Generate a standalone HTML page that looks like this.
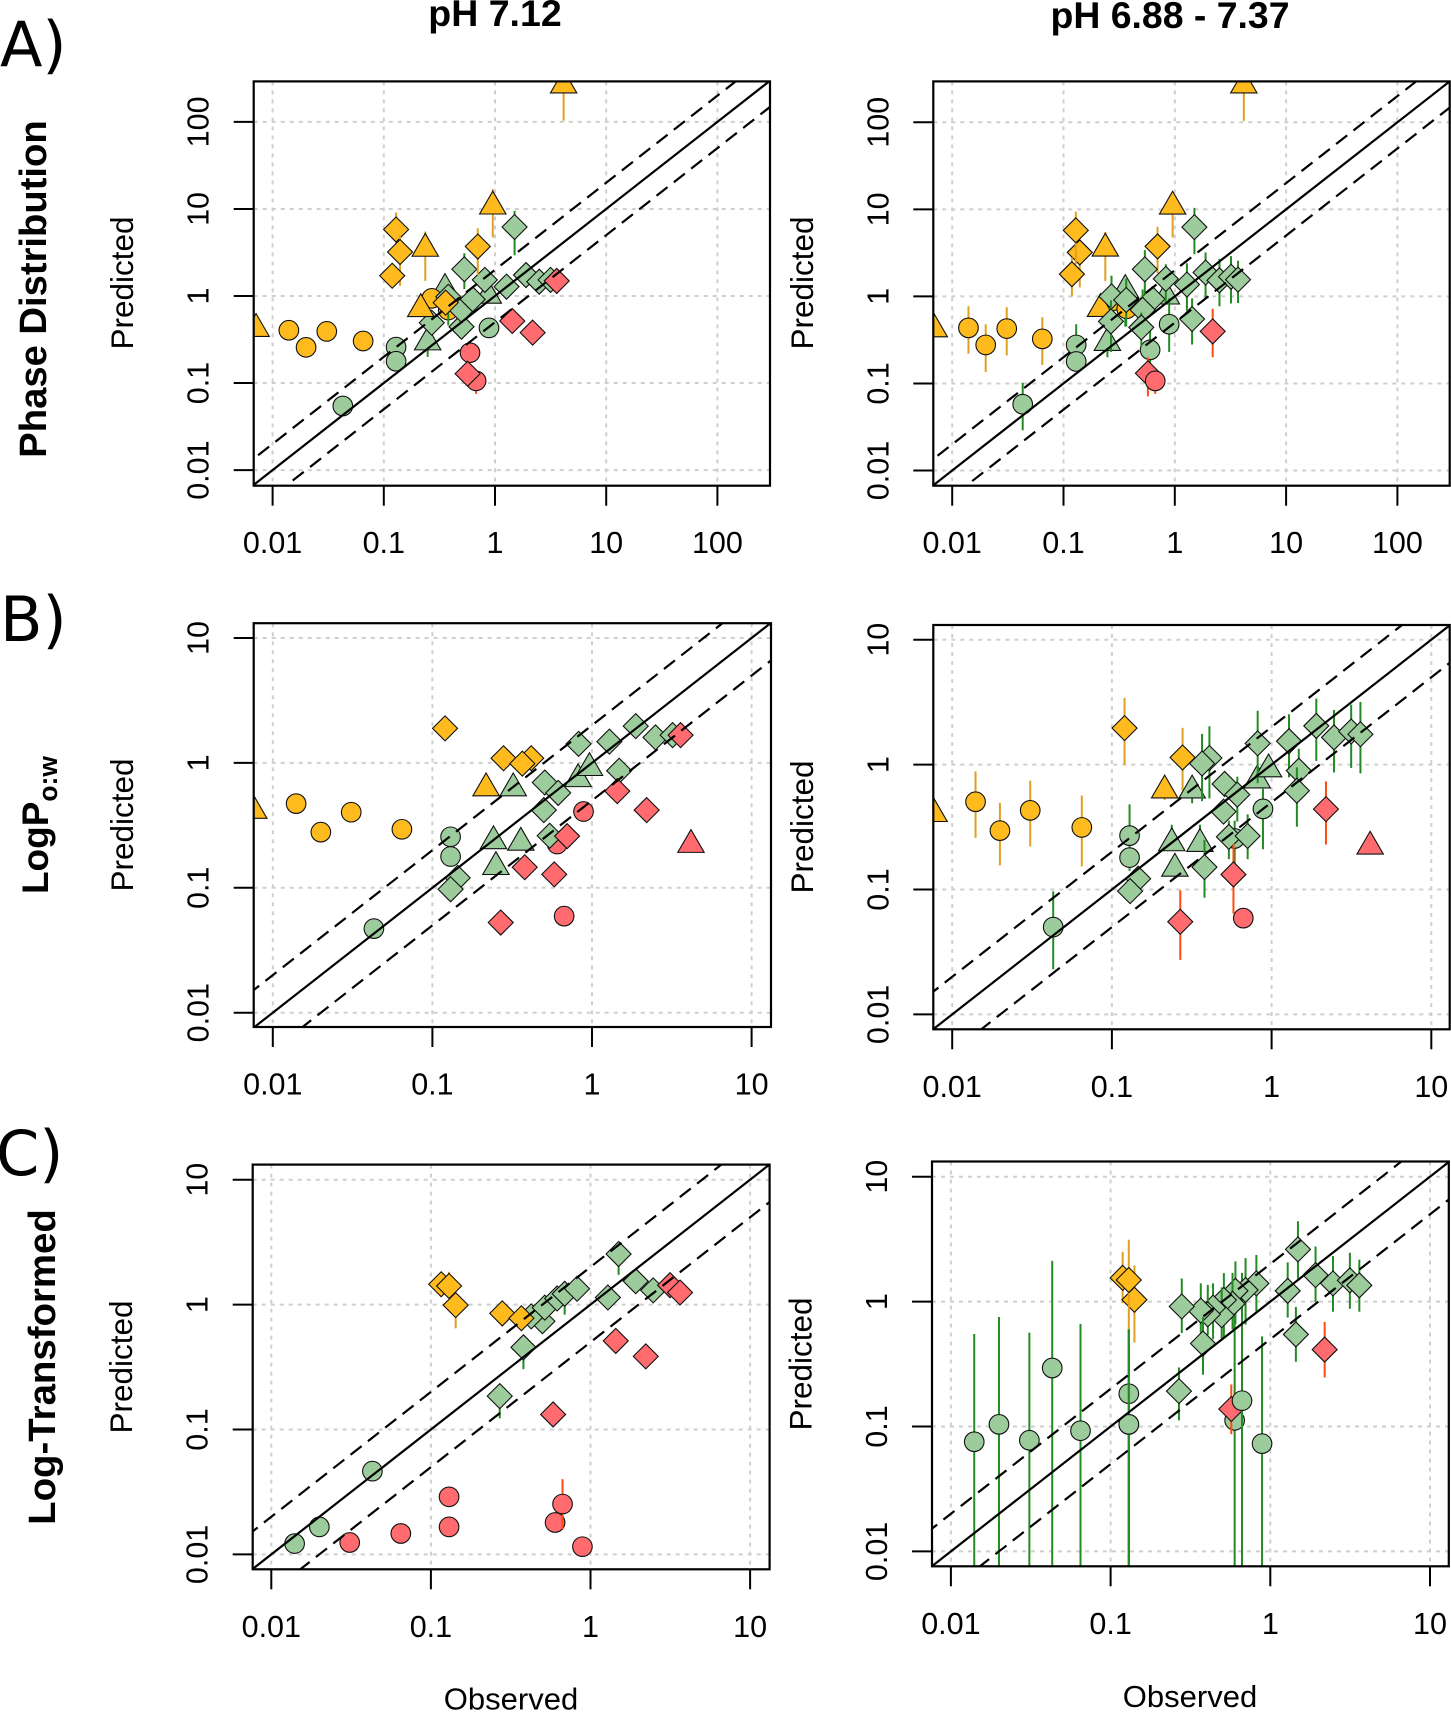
<!DOCTYPE html>
<html lang="en">
<head>
<meta charset="utf-8">
<title>Observed vs predicted scatter panels</title>
<style>
html,body{margin:0;padding:0;background:#fff;width:1451px;height:1712px;overflow:hidden;}
svg{display:block;}
text{font-family:"Liberation Sans",sans-serif;fill:#000;}
.bold{font-weight:bold;}
.letter{font-family:"DejaVu Sans",sans-serif;font-size:62px;}
</style>
</head>
<body>
<svg id="chart" xmlns="http://www.w3.org/2000/svg" width="1451" height="1712" viewBox="0 0 1451 1712">
<rect x="0" y="0" width="1451" height="1712" fill="#fff"/>
<text class="bold" x="495" y="26" font-size="37.5" text-anchor="middle">pH 7.12</text>
<text class="bold" x="1170" y="28" font-size="37.4" text-anchor="middle">pH 6.88 - 7.37</text>
<text class="letter" x="0" y="66">A)</text>
<text class="letter" x="0" y="641">B)</text>
<text class="letter" x="-4" y="1175">C)</text>
<text class="bold" transform="translate(46 289) rotate(-90)" font-size="38.2" text-anchor="middle">Phase Distribution</text>
<text class="bold" transform="translate(48 825) rotate(-90)" font-size="37" text-anchor="middle">LogP<tspan font-size="26.5" dy="9">o:w</tspan></text>
<text class="bold" transform="translate(55 1367) rotate(-90)" font-size="38.4" text-anchor="middle">Log-Transformed</text>
<text x="511" y="1709.5" font-size="31" text-anchor="middle">Observed</text>
<text x="1190" y="1707" font-size="31" text-anchor="middle">Observed</text>
</svg>
<script>
// Tick values and printed labels
const ticksRowA = [0.01, 0.1, 1, 10, 100];
const ticksRowAY = [0.01, 0.1, 1, 10, 100];
const ticksRowBC = [0.01, 0.1, 1, 10];
const tickLabels = {0.01: "0.01", 0.1: "0.1", 1: "1", 10: "10", 100: "100"};
const diagonalFactors = [1, 2, 0.5];
const yAxisTitle = "Predicted";

// Marker kind codes: first letter colour group (o, g, r), second shape (c, d, t)
// Panel A, pH 7.12
const a1Kind = ["gt","gt","gt","gc","gc","gc","gc","oc","oc","oc","oc","oc","oc","gd","gd","gd","gd","gd","gd","gd","gd","gd","gd","gd","gd","od","od","od","od","od","ot","ot","ot","ot","ot","rc","rc","rd","rd","rd","rd"];
const a1Obs = [0.248,0.355,0.87,0.0428,0.129,0.129,0.883,0.014,0.02,0.0307,0.0652,0.27,0.38,0.38,0.27,0.5,0.5,0.63,0.53,0.81,1.27,1.5,1.9,2.5,3.16,0.129,0.14,0.119,0.7,0.36,4.14,0.955,0.236,0.215,0.0071,0.596,0.676,3.59,1.43,2.18,0.567];
const a1Pred = [0.294,1.21,1.01,0.0545,0.259,0.178,0.43,0.404,0.257,0.392,0.304,0.94,0.69,0.98,0.493,0.444,0.69,0.916,2.03,1.53,1.28,6.2,1.74,1.46,1.53,5.8,3.2,1.71,3.7,0.84,263,10.7,3.5,0.71,0.42,0.223,0.106,1.49,0.516,0.38,0.128];
const a1Low = [0.2,null,null,null,null,null,null,null,null,null,null,null,null,0.46,null,null,null,null,1.2,null,null,2.94,null,null,null,3,1.31,null,1.75,null,103,4.7,1.49,null,null,null,0.075,null,null,null,null];
const a1High = [null,null,null,null,null,null,null,null,null,null,null,null,null,1.3,null,null,null,null,3.1,null,null,9.5,null,null,null,9.1,5,null,6,null,700,16.9,5.5,null,null,null,null,null,null,null,null];

// Panel A, pH 6.88 - 7.37
const a2Kind = ["gt","gt","gt","oc","oc","oc","oc","oc","oc","gc","gc","gc","gc","gc","od","od","od","od","ot","ot","ot","ot","ot","gd","gd","gd","gd","gd","gd","gd","gd","gd","gd","gd","gd","gd","gd","gd","rd","rd","rc"];
const a2Obs = [0.248,0.359,0.84,0.014,0.02,0.0309,0.0645,0.27,0.37,0.043,0.13,0.13,0.6,0.89,0.14,0.129,0.119,0.7,4.17,0.956,0.2375,0.215,0.0069,0.27,0.366,0.63,0.514,0.5,0.267,1.43,0.538,0.83,1.285,1.5,1.89,2.52,3.2,3.7,2.19,0.573,0.667];
const a2Pred = [0.293,1.19,1,0.435,0.277,0.427,0.325,0.88,0.72,0.0577,0.277,0.179,0.243,0.479,3.2,5.74,1.8,3.75,266,10.8,3.55,0.72,0.42,1,0.91,0.93,0.7,0.44,0.516,0.55,2.05,1.59,1.37,6.25,1.88,1.53,1.68,1.56,0.396,0.131,0.107];
const a2Low = [0.2,0.45,null,0.22,0.135,0.21,0.163,null,null,0.029,0.16,0.138,0.15,0.23,1.27,2.34,1,1.85,104,4.76,1.5,null,null,0.55,0.45,null,0.4,0.27,0.23,0.28,1.05,0.83,0.68,3.05,0.95,0.77,0.83,0.84,0.2,0.071,0.076];
const a2High = [null,1.68,null,0.77,0.479,0.753,0.578,null,null,0.102,0.479,null,0.41,0.95,4.5,9.4,2.8,6.3,700,15,5.5,null,null,1.73,1.6,null,1.2,0.65,0.9,0.95,3.4,2.34,2.4,10.4,3.2,2.7,2.9,2.57,0.72,0.2,null];

// Panel B, pH 7.12
const b1Kind = ["rc","rc","rc","gt","gt","gt","gt","gt","gt","gc","gc","gc","oc","oc","oc","oc","ot","ot","od","od","od","od","gd","gd","gd","gd","gd","gd","gd","gd","gd","gd","gd","gd","rd","rd","rd","rd","rd","rd","rd","rt"];
const b1Obs = [0.605,0.885,0.669,0.321,0.2415,0.358,0.25,0.818,0.964,0.043,0.13,0.13,0.014,0.02,0.031,0.0644,0.0076,0.217,0.416,0.12,0.279,0.366,1.88,2.5,3.2,1.285,0.824,1.48,0.506,0.614,0.499,0.543,0.144,0.13,3.59,1.44,2.2,0.698,0.379,0.58,0.268,4.17];
const b1Pred = [0.224,0.408,0.0593,0.627,0.2365,0.23,0.147,0.743,0.912,0.0471,0.256,0.178,0.472,0.279,0.403,0.294,0.414,0.627,1.09,1.89,1.09,0.987,1.97,1.6,1.67,1.48,1.42,0.865,0.697,0.575,0.419,0.261,0.12,0.0973,1.67,0.594,0.419,0.259,0.146,0.128,0.0527,0.221];
const b1Low = [null,null,null,0.59,null,null,null,null,null,null,null,null,null,null,null,null,null,0.59,null,null,null,null,null,null,null,null,null,null,null,null,null,null,null,null,null,null,null,null,null,null,null,null];
const b1High = [null,null,null,null,null,null,null,null,null,null,null,null,null,null,null,null,null,null,null,null,null,null,null,null,null,null,null,null,null,null,null,null,null,null,null,null,null,null,null,null,null,null];

// Panel B, pH 6.88 - 7.37
const b2Kind = ["oc","oc","oc","oc","ot","ot","od","od","gc","gc","gc","gc","rc","gt","gt","gt","gt","gt","gt","gd","gd","gd","gd","gd","gd","gd","gd","gd","gd","gd","gd","gd","gd","gd","gd","gd","gd","gc","rd","rd","rd","rt"];
const b2Obs = [0.014,0.0199,0.0308,0.0648,0.0077,0.214,0.12,0.277,0.0429,0.129,0.129,0.587,0.665,0.318,0.237,0.356,0.248,0.813,0.957,1.905,2.46,3.15,3.6,1.285,0.818,1.48,1.44,0.508,0.61,0.5,0.54,0.708,0.408,0.367,0.38,0.146,0.13,0.883,2.19,0.577,0.268,4.14];
const b2Pred = [0.504,0.296,0.43,0.314,0.403,0.622,1.96,1.14,0.05,0.27,0.18,0.256,0.059,0.622,0.235,0.232,0.147,0.748,0.918,2.04,1.65,1.84,1.75,1.54,1.48,0.894,0.618,0.7,0.575,0.42,0.264,0.268,1.13,1.02,0.151,0.122,0.097,0.442,0.44,0.132,0.0552,0.221];
const b2Low = [0.259,0.156,0.221,0.153,null,0.52,1,0.62,0.023,0.15,0.141,0.13,null,0.49,null,null,null,null,null,1.07,0.865,0.94,0.85,0.79,0.71,0.6,0.318,null,0.35,null,0.175,0.175,0.535,0.51,0.086,null,null,0.21,0.229,0.0643,0.0273,null];
const b2High = [0.883,0.494,0.744,0.564,null,null,3.42,1.97,0.0965,0.48,null,0.355,null,null,0.33,0.33,null,null,null,3.38,2.74,3.02,3.17,2.53,2.7,1.34,0.95,null,0.8,null,0.355,0.4,2.03,1.76,0.25,null,null,0.64,0.734,0.232,0.0986,null];

// Panel C, pH 7.12
const c1Kind = ["gc","gc","gc","rc","rc","rc","rc","rc","rc","rc","gd","gd","gd","gd","gd","gd","gd","gd","gd","gd","gd","gd","rd","rd","rd","rd","rd","od","od","od","od","od"];
const c1Obs = [0.014,0.02,0.043,0.031,0.0648,0.13,0.13,0.6,0.668,0.89,0.5,0.425,0.517,0.618,0.689,0.824,1.285,1.5,1.92,2.47,0.38,0.27,3.15,3.64,1.44,2.22,0.583,0.116,0.143,0.13,0.28,0.369];
const c1Pred = [0.0122,0.0166,0.0464,0.01245,0.0147,0.0289,0.0166,0.018,0.0253,0.01153,0.736,0.805,0.946,1.12,1.22,1.34,1.14,2.54,1.54,1.3,0.455,0.185,1.43,1.25,0.512,0.385,0.132,1.456,0.99,1.41,0.85,0.778];
const c1Low = [null,null,null,null,null,null,null,null,0.016,null,null,null,null,null,0.83,null,null,1.73,null,null,0.304,0.123,null,null,null,null,null,null,0.645,null,null,null];
const c1High = [null,null,null,null,null,null,null,null,0.04,null,null,null,null,null,null,null,null,3.2,null,null,null,null,null,null,null,null,null,null,null,1.83,null,null];

// Panel C, pH 6.88 - 7.37
const c2Kind = ["gc","gc","gc","gc","gc","gc","gc","gc","gc","gc","rd","gc","gd","gd","gd","gd","gd","gd","gd","gd","gd","gd","gd","gd","gd","gd","gd","gd","gd","gd","gd","od","od","od","rd"];
const c2Obs = [0.014,0.02,0.031,0.0431,0.0648,0.13,0.13,0.598,0.888,0.13,0.57,0.665,1.49,1.92,2.47,3.15,3.61,1.285,0.818,0.7,0.605,0.58,0.512,0.496,0.438,0.406,0.367,0.279,0.379,1.446,0.268,0.119,0.141,0.13,2.19];
const c2Pred = [0.0755,0.104,0.0776,0.294,0.0925,0.183,0.104,0.112,0.0729,0.104,0.138,0.161,2.62,1.63,1.4,1.48,1.35,1.22,1.4,1.24,1.22,0.96,1.03,0.778,0.895,0.79,0.846,0.914,0.462,0.546,0.192,1.55,1.035,1.49,0.413];
const c2Low = [0.005,0.005,0.005,0.005,0.005,0.005,0.005,0.005,0.005,0.005,0.0868,0.005,1.53,0.99,0.83,0.876,0.83,0.746,0.83,0.654,0.66,0.6,0.51,0.5,0.5,0.54,0.5,0.56,0.26,0.33,0.112,0.97,0.47,0.6,0.247];
const c2High = [0.55,0.752,0.565,2.12,0.663,0.6,0.6,1.5,0.527,0.6,0.217,1.7,4.4,2.76,2.32,2.46,2.17,2.06,2.36,2.23,2.1,1.7,1.69,1.3,1.4,1.36,1.4,1.53,0.75,0.907,0.297,2.5,1.95,3.13,0.687];

const fillColors = {o: "#ffbb1e", g: "#9ccb9c", r: "#ff6b6e"};
const barColors = {o: "#dfa01f", g: "#228b22", r: "#ff4a10"};
const svg = document.getElementById("chart");
const NS = "http://www.w3.org/2000/svg";

function node(tag, parent, attrs) {
  const el = document.createElementNS(NS, tag);
  for (const k in attrs) el.setAttribute(k, attrs[k]);
  parent.appendChild(el);
  return el;
}

function drawPanel(cfg) {
  const sx = v => cfg.xOne + cfg.xDecade * Math.log10(v);
  const sy = v => cfg.yOne - cfg.yDecade * Math.log10(v);
  const width = cfg.right - cfg.left;
  const height = cfg.bottom - cfg.top;

  const g = node("g", svg, {});
  
  

  const clip = node("clipPath", g, {id: "clip-" + cfg.name});
  node("rect", clip, {x: cfg.left, y: cfg.top, width: width, height: height});

  const grid = node("g", g, {stroke: "#cfcfcf", "stroke-width": 2, "stroke-dasharray": "4 5", fill: "none"});
  
  
  cfg.xTicks.forEach(t => {
    const line = node("line", grid, {x1: sx(t), x2: sx(t), y1: cfg.top, y2: cfg.bottom});
    
    
  });
  cfg.yTicks.forEach(t => {
    const line = node("line", grid, {y1: sy(t), y2: sy(t), x1: cfg.left, x2: cfg.right});
    
    
  });

  const marks = node("g", g, {"clip-path": "url(#clip-" + cfg.name + ")"});
  
  
  cfg.kind.forEach((kind, i) => {
    const colour = kind[0];
    const shape = kind[1];
    const cx = sx(cfg.obs[i]);
    const cy = sy(cfg.pred[i]);
    const lowV = cfg.low[i] === null ? cfg.pred[i] : cfg.low[i];
    const highV = cfg.high[i] === null ? cfg.pred[i] : cfg.high[i];
    if (lowV !== highV) {
      const bar = node("line", marks, {x1: cx, x2: cx, y1: sy(lowV), y2: sy(highV), stroke: barColors[colour], "stroke-width": 2});
      
      
    }
    const style = {fill: fillColors[colour], stroke: "#111", "stroke-width": 1.1};
    let mark;
    if (shape === "c") {
      mark = node("circle", marks, Object.assign({cx: cx, cy: cy, r: 9.8}, style));
      
    } else if (shape === "d") {
      const d = 12.5;
      mark = node("polygon", marks, Object.assign({points: [cx, cy - d, cx + d, cy, cx, cy + d, cx - d, cy].join(" ")}, style));
      
    } else {
      const r = 15.2, hw = 13.2;
      mark = node("polygon", marks, Object.assign({points: [cx, cy - r, cx + hw, cy + r / 2, cx - hw, cy + r / 2].join(" ")}, style));
      
    }
    
  });

  const lines = node("g", g, {"clip-path": "url(#clip-" + cfg.name + ")", fill: "none", stroke: "#000", "stroke-width": 2.2});
  
  
  diagonalFactors.forEach(f => {
    const lo = 1e-4, hi = 1e4;
    const line = node("line", lines, {x1: sx(lo), y1: sy(lo * f), x2: sx(hi), y2: sy(hi * f)});
    if (f !== 1) line.setAttribute("stroke-dasharray", "14 8");
    
    
  });

  const frame = node("rect", g, {x: cfg.left, y: cfg.top, width: width, height: height, fill: "none", stroke: "#000", "stroke-width": 2.2});
  
  

  cfg.xTicks.forEach(t => {
    const tick = node("line", g, {x1: sx(t), x2: sx(t), y1: cfg.bottom, y2: cfg.bottom + 20, stroke: "#000", "stroke-width": 2});
    
    
    const label = node("text", g, {x: sx(t), y: cfg.bottom + 67.5, "font-size": 30.5, "text-anchor": "middle"});
    label.textContent = tickLabels[t];
    
    
  });
  cfg.yTicks.forEach(t => {
    const tick = node("line", g, {x1: cfg.left - 20, x2: cfg.left, y1: sy(t), y2: sy(t), stroke: "#000", "stroke-width": 2});
    
    
    const bx = cfg.left - 45;
    const label = node("text", g, {transform: "translate(" + bx + " " + sy(t) + ") rotate(-90)", "font-size": 30.5, "text-anchor": "middle"});
    label.textContent = tickLabels[t];
    
    
  });

  const title = node("text", g, {transform: "translate(" + (cfg.left - 120.5) + " " + cfg.titleY + ") rotate(-90)", "font-size": 31.5, "text-anchor": "middle"});
  title.textContent = yAxisTitle;
  
  
}

drawPanel({name: "panel-a-ph-7-12", left: 253.7, right: 770, top: 81.4, bottom: 485.7, xOne: 495, xDecade: 111.2, yOne: 296, yDecade: 87.05, titleY: 283, xTicks: ticksRowA, yTicks: ticksRowAY, kind: a1Kind, obs: a1Obs, pred: a1Pred, low: a1Low, high: a1High});
drawPanel({name: "panel-a-ph-range", left: 933.3, right: 1449.7, top: 81.4, bottom: 485.7, xOne: 1174.8, xDecade: 111.3, yOne: 296.4, yDecade: 87.05, titleY: 283, xTicks: ticksRowA, yTicks: ticksRowAY, kind: a2Kind, obs: a2Obs, pred: a2Pred, low: a2Low, high: a2High});
drawPanel({name: "panel-b-ph-7-12", left: 253.7, right: 771, top: 623.2, bottom: 1027, xOne: 592, xDecade: 159.6, yOne: 762.9, yDecade: 124.9, titleY: 825, xTicks: ticksRowBC, yTicks: ticksRowBC, kind: b1Kind, obs: b1Obs, pred: b1Pred, low: b1Low, high: b1High});
drawPanel({name: "panel-b-ph-range", left: 933.3, right: 1449.7, top: 625, bottom: 1029.3, xOne: 1271.6, xDecade: 159.7, yOne: 764.6, yDecade: 124.9, titleY: 827, xTicks: ticksRowBC, yTicks: ticksRowBC, kind: b2Kind, obs: b2Obs, pred: b2Pred, low: b2Low, high: b2High});
drawPanel({name: "panel-c-ph-7-12", left: 252.7, right: 769.6, top: 1164.6, bottom: 1569.3, xOne: 590.5, xDecade: 159.6, yOne: 1304.6, yDecade: 124.9, titleY: 1367, xTicks: ticksRowBC, yTicks: ticksRowBC, kind: c1Kind, obs: c1Obs, pred: c1Pred, low: c1Low, high: c1High});
drawPanel({name: "panel-c-ph-range", left: 932, right: 1448.8, top: 1161.5, bottom: 1566.3, xOne: 1270.3, xDecade: 159.7, yOne: 1301.6, yDecade: 124.9, titleY: 1364, xTicks: ticksRowBC, yTicks: ticksRowBC, kind: c2Kind, obs: c2Obs, pred: c2Pred, low: c2Low, high: c2High});
</script>
</body>
</html>
